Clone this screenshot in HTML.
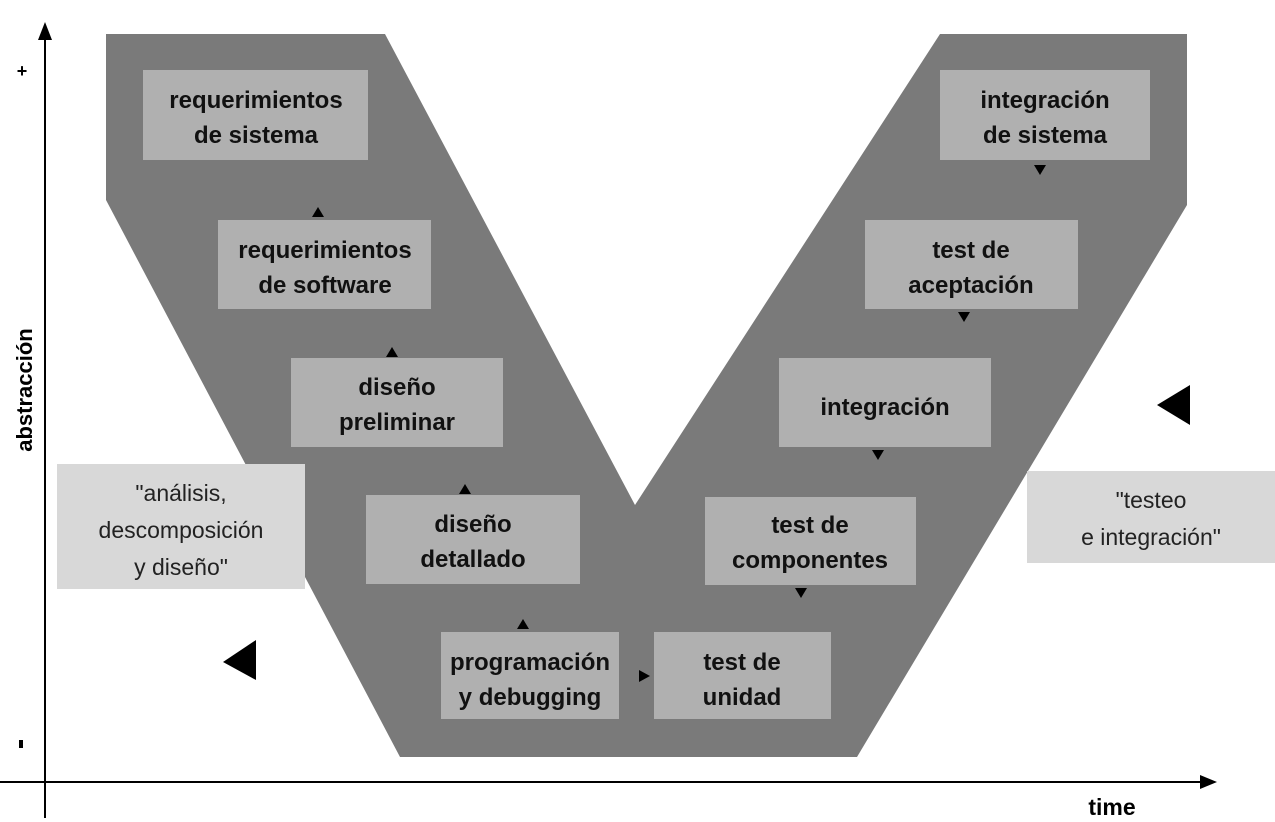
<!DOCTYPE html>
<html><head><meta charset="utf-8"><style>
html,body{margin:0;padding:0;background:#fff;}
svg{display:block;}
text{font-family:"Liberation Sans",sans-serif;}
</style></head><body>
<svg width="1275" height="822" viewBox="0 0 1275 822" xmlns="http://www.w3.org/2000/svg">
<polygon points="106,34 385,34 635,505 940,34 1187,34 1187,205 857,757 400,757 106,200" fill="#7a7a7a"/>
<g fill="#b0b0b0">
<rect x="143" y="70" width="225" height="90"/>
<rect x="218" y="220" width="213" height="89"/>
<rect x="291" y="358" width="212" height="89"/>
<rect x="366" y="495" width="214" height="89"/>
<rect x="441" y="632" width="178" height="87"/>
<rect x="654" y="632" width="177" height="87"/>
<rect x="705" y="497" width="211" height="88"/>
<rect x="779" y="358" width="212" height="89"/>
<rect x="865" y="220" width="213" height="89"/>
<rect x="940" y="70" width="210" height="90"/>
</g>
<rect x="57" y="464" width="248" height="125" fill="#d8d8d8"/>
<rect x="1027" y="471" width="248" height="92" fill="#d8d8d8"/>
<g font-size="24" font-weight="bold" text-anchor="middle" fill="#111">
<text x="256" y="108">requerimientos</text><text x="256" y="143">de sistema</text>
<text x="325" y="258">requerimientos</text><text x="325" y="293">de software</text>
<text x="397" y="395">diseño</text><text x="397" y="430">preliminar</text>
<text x="473" y="532">diseño</text><text x="473" y="567">detallado</text>
<text x="530" y="670">programación</text><text x="530" y="705">y debugging</text>
<text x="742" y="670">test de</text><text x="742" y="705">unidad</text>
<text x="810" y="533">test de</text><text x="810" y="568">componentes</text>
<text x="885" y="415">integración</text>
<text x="971" y="258">test de</text><text x="971" y="293">aceptación</text>
<text x="1045" y="108">integración</text><text x="1045" y="143">de sistema</text>
</g>
<g font-size="23" text-anchor="middle" fill="#222">
<text x="181" y="501">"análisis,</text>
<text x="181" y="538">descomposición</text>
<text x="181" y="575">y diseño"</text>
<text x="1151" y="508">"testeo</text>
<text x="1151" y="545">e integración"</text>
</g>
<g fill="#000">
<polygon points="312,217 324,217 318,207"/>
<polygon points="386,357 398,357 392,347"/>
<polygon points="459,494 471,494 465,484"/>
<polygon points="517,629 529,629 523,619"/>
<polygon points="639,670 639,682 650,676"/>
<polygon points="795,588 807,588 801,598"/>
<polygon points="872,450 884,450 878,460"/>
<polygon points="958,312 970,312 964,322"/>
<polygon points="1034,165 1046,165 1040,175"/>
<polygon points="256,640 256,680 223,662"/>
<polygon points="1190,385 1190,425 1157,405"/>
</g>
<line x1="45" y1="30" x2="45" y2="818" stroke="#000" stroke-width="2"/>
<polygon points="38,40 52,40 45,22" fill="#000"/>
<line x1="0" y1="782" x2="1205" y2="782" stroke="#000" stroke-width="2"/>
<polygon points="1200,775 1200,789 1217,782" fill="#000"/>
<text x="22" y="77" font-size="18" font-weight="bold" text-anchor="middle">+</text>
<rect x="19" y="740" width="4" height="8" fill="#000"/>
<text transform="translate(32,390) rotate(-90)" font-size="22" font-weight="bold" text-anchor="middle">abstracción</text>
<text x="1112" y="815" font-size="23" font-weight="bold" text-anchor="middle">time</text>
</svg>
</body></html>
